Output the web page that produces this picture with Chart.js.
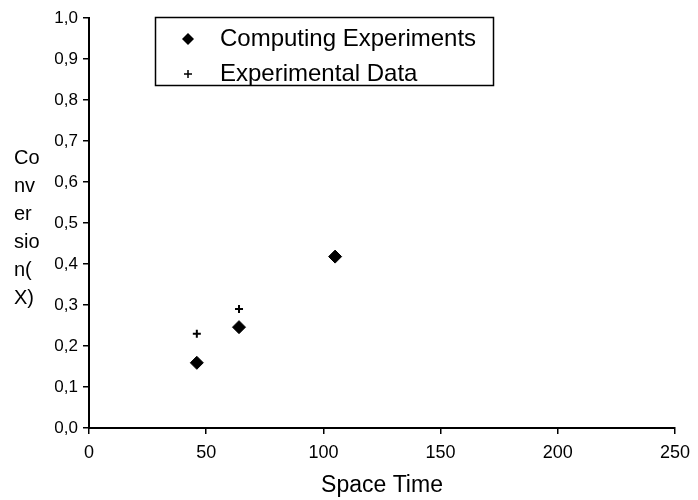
<!DOCTYPE html>
<html>
<head>
<meta charset="utf-8">
<script src="https://cdn.jsdelivr.net/npm/chart.js@4"></script>
<style>
  html, body { margin: 0; padding: 0; background: #fff; }
  #chart { display: block; }
</style>
</head>
<body>
<canvas id="chart" width="698" height="500"></canvas>
<script>
// data
const computeX = [46, 64, 105];
const computeY = [0.159, 0.246, 0.418];
const expX = [46, 64];
const expY = [0.23, 0.29];
const seriesNames = ['Computing Experiments', 'Experimental Data'];
const yTitleLines = ['Co', 'nv', 'er', 'sio', 'n(', 'X)'];
const xTitle = 'Space Time';

const FONT = '"Liberation Sans", Arial, sans-serif';

function pts(xs, ys) {
  return xs.map((x, i) => ({ x: x, y: ys[i] }));
}
function comma(v, d) {
  return v.toFixed(d).replace('.', ',');
}

// y title is written flat, in chunks, left of the tick labels
const yTitlePlugin = {
  id: 'yTitle',
  afterDraw(chart) {
    const ctx = chart.ctx;
    ctx.save();
    ctx.fillStyle = '#000';
    ctx.font = '20px ' + FONT;
    ctx.textBaseline = 'middle';
    ctx.textAlign = 'left';
    yTitleLines.forEach((t, i) => {
      ctx.fillText(t, 14, 158 + i * 28);
    });
    ctx.restore();
  }
};

// boxed legend inside the plot
const boxLegend = {
  id: 'boxLegend',
  afterDraw(chart) {
    const ctx = chart.ctx;
    ctx.save();
    ctx.strokeStyle = '#000';
    ctx.lineWidth = 1.5;
    ctx.strokeRect(155.5, 17.5, 338, 68);
    ctx.font = '24px ' + FONT;
    ctx.textBaseline = 'middle';
    ctx.fillStyle = '#000';
    chart.data.datasets.forEach((ds, i) => {
      const y = 39 + i * 35;
      const x = 188;
      if (ds.pointStyle === 'rectRot') {
        ctx.beginPath();
        ctx.moveTo(x, y - 6);
        ctx.lineTo(x + 6, y);
        ctx.lineTo(x, y + 6);
        ctx.lineTo(x - 6, y);
        ctx.closePath();
        ctx.fill();
      } else {
        ctx.lineWidth = 1.5;
        ctx.beginPath();
        ctx.moveTo(x - 4, y);
        ctx.lineTo(x + 4, y);
        ctx.moveTo(x, y - 4);
        ctx.lineTo(x, y + 4);
        ctx.stroke();
      }
      ctx.fillText(ds.label, 220, y);
    });
    ctx.restore();
  }
};

const ctx = document.getElementById('chart');
const chart = new Chart(ctx, {
  type: 'scatter',
  data: {
    datasets: [
      {
        label: seriesNames[0],
        data: pts(computeX, computeY),
        pointStyle: 'rectRot',
        pointRadius: 6.5,
        backgroundColor: '#000',
        borderColor: '#000',
        borderWidth: 1
      },
      {
        label: seriesNames[1],
        data: pts(expX, expY),
        pointStyle: 'cross',
        pointRadius: 4,
        backgroundColor: '#000',
        borderColor: '#000',
        borderWidth: 2
      }
    ]
  },
  options: {
    responsive: false,
    animation: false,
    layout: { padding: { top: 18, right: 22, left: 0, bottom: 0 } },
    plugins: {
      legend: { display: false },
      tooltip: { enabled: false }
    },
    scales: {
      x: {
        type: 'linear',
        min: 0,
        max: 250,
        afterFit(s) { s.height = 72; },
        ticks: {
          stepSize: 50,
          color: '#000',
          padding: 8,
          font: { size: 18, family: FONT },
          callback: (v) => String(v)
        },
        grid: { drawOnChartArea: false, tickLength: 6, color: '#000', lineWidth: 1.5 },
        border: { color: '#000', width: 2 },
        title: {
          display: true,
          text: xTitle,
          color: '#000',
          padding: { top: 0, bottom: 1 },
          font: { size: 23, family: FONT }
        }
      },
      y: {
        min: 0,
        max: 1,
        afterFit(s) { s.width = 89; },
        ticks: {
          stepSize: 0.1,
          color: '#000',
          padding: 5,
          font: { size: 17, family: FONT },
          callback: (v) => comma(v, 1)
        },
        grid: { drawOnChartArea: false, tickLength: 6, color: '#000', lineWidth: 1.5 },
        border: { color: '#000', width: 2 }
      }
    }
  },
  plugins: [yTitlePlugin, boxLegend]
});
</script>
</body>
</html>
